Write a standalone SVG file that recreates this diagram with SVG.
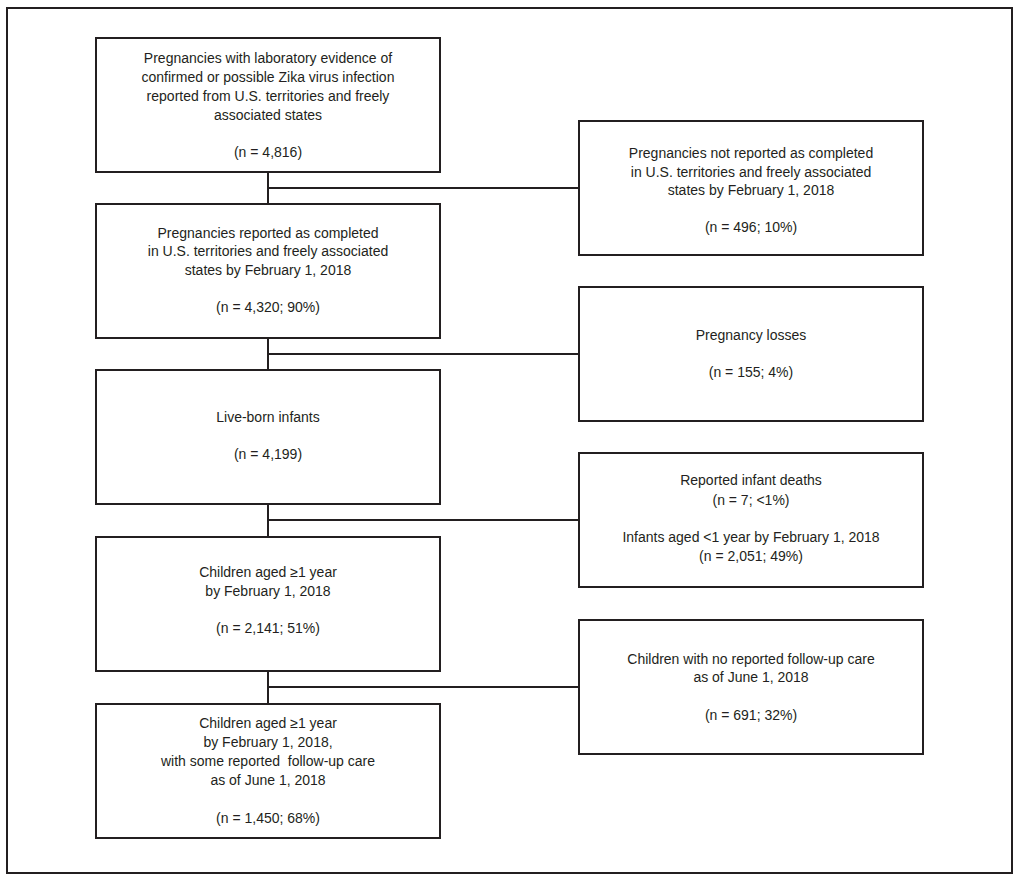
<svg xmlns="http://www.w3.org/2000/svg" width="1020" height="878" viewBox="0 0 1020 878">
<style>
.box{fill:#fff;stroke:#231f20;stroke-width:2}
.ln{fill:none;stroke:#231f20;stroke-width:2}
text{font-family:"Liberation Sans",Arial,sans-serif;font-size:14px;fill:#231f20;text-anchor:middle}
</style>
<rect x="0" y="0" width="1020" height="878" fill="#fff"/>
<rect id="frame" x="7" y="8" width="1005" height="865" class="ln"/>
<g id="connectors">
<path class="ln" d="M268,172V204M268,188H579"/>
<path class="ln" d="M268,338V370M268,354H579"/>
<path class="ln" d="M268,504V537M268,520H579"/>
<path class="ln" d="M268,671V704M268,687H579"/>
</g>
<g id="n1"><rect class="box" x="96" y="38" width="344" height="134"/>
<text x="268" y="63">Pregnancies with laboratory evidence of</text>
<text x="268" y="82">confirmed or possible Zika virus infection</text>
<text x="268" y="101">reported from U.S. territories and freely</text>
<text x="268" y="120">associated states</text>
<text x="268" y="157">(n = 4,816)</text></g>
<g id="n2"><rect class="box" x="96" y="204" width="344" height="134"/>
<text x="268" y="238">Pregnancies reported as completed</text>
<text x="268" y="256">in U.S. territories and freely associated</text>
<text x="268" y="275">states by February 1, 2018</text>
<text x="268" y="312">(n = 4,320; 90%)</text></g>
<g id="n3"><rect class="box" x="96" y="370" width="344" height="134"/>
<text x="268" y="422">Live-born infants</text>
<text x="268" y="459">(n = 4,199)</text></g>
<g id="n4"><rect class="box" x="96" y="537" width="344" height="134"/>
<text x="268" y="577">Children aged ≥1 year</text>
<text x="268" y="596">by February 1, 2018</text>
<text x="268" y="633">(n = 2,141; 51%)</text></g>
<g id="n5"><rect class="box" x="96" y="704" width="344" height="134"/>
<text x="268" y="728">Children aged ≥1 year</text>
<text x="268" y="747">by February 1, 2018,</text>
<text x="268" y="766">with some reported&#160; follow-up care</text>
<text x="268" y="785">as of June 1, 2018</text>
<text x="268" y="823">(n = 1,450; 68%)</text></g>
<g id="r1"><rect class="box" x="579" y="121" width="344" height="134"/>
<text x="751" y="158">Pregnancies not reported as completed</text>
<text x="751" y="177">in U.S. territories and freely associated</text>
<text x="751" y="195">states by February 1, 2018</text>
<text x="751" y="232">(n = 496; 10%)</text></g>
<g id="r2"><rect class="box" x="579" y="287" width="344" height="134"/>
<text x="751" y="340">Pregnancy losses</text>
<text x="751" y="377">(n = 155; 4%)</text></g>
<g id="r3"><rect class="box" x="579" y="453" width="344" height="134"/>
<text x="751" y="485">Reported infant deaths</text>
<text x="751" y="505">(n = 7; &lt;1%)</text>
<text x="751" y="542">Infants aged &lt;1 year by February 1, 2018</text>
<text x="751" y="561">(n = 2,051; 49%)</text></g>
<g id="r4"><rect class="box" x="579" y="620" width="344" height="134"/>
<text x="751" y="664">Children with no reported follow-up care</text>
<text x="751" y="682">as of June 1, 2018</text>
<text x="751" y="720">(n = 691; 32%)</text></g>
</svg>
